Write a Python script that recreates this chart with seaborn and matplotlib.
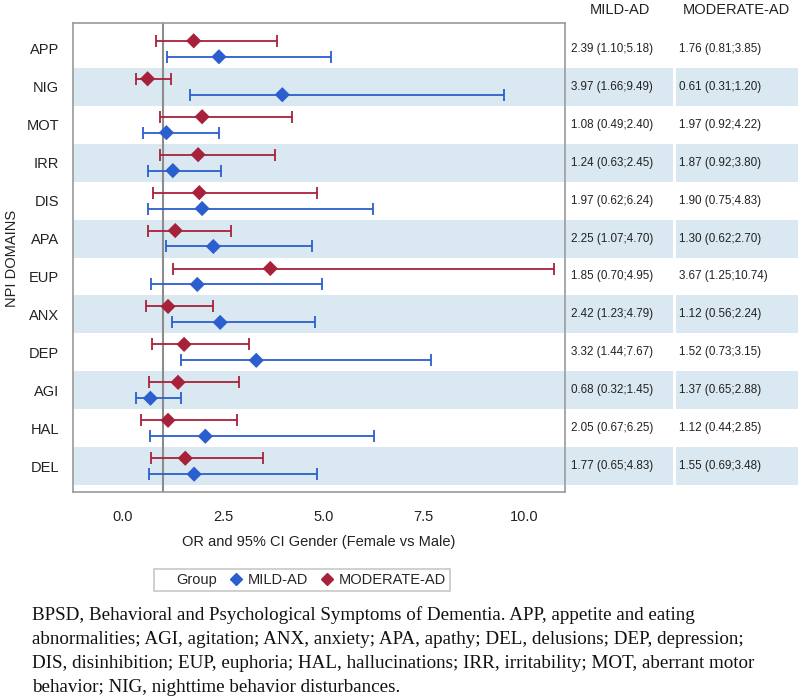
import numpy as np
import pandas as pd
import matplotlib
matplotlib.use("Agg")
import matplotlib.pyplot as plt
from matplotlib.lines import Line2D
import seaborn as sns

# NPI domains, top to bottom
domains = ["APP", "NIG", "MOT", "IRR", "DIS", "APA", "EUP", "ANX", "DEP", "AGI", "HAL", "DEL"]

mild_or = [2.39, 3.97, 1.08, 1.24, 1.97, 2.25, 1.85, 2.42, 3.32, 0.68, 2.05, 1.77]
mild_lo = [1.10, 1.66, 0.49, 0.63, 0.62, 1.07, 0.70, 1.23, 1.44, 0.32, 0.67, 0.65]
mild_hi = [5.18, 9.49, 2.40, 2.45, 6.24, 4.70, 4.95, 4.79, 7.67, 1.45, 6.25, 4.83]

mod_or = [1.76, 0.61, 1.97, 1.87, 1.90, 1.30, 3.67, 1.12, 1.52, 1.37, 1.12, 1.55]
mod_lo = [0.81, 0.31, 0.92, 0.92, 0.75, 0.62, 1.25, 0.56, 0.73, 0.65, 0.44, 0.69]
mod_hi = [3.85, 1.20, 4.22, 3.80, 4.83, 2.70, 10.74, 2.24, 3.15, 2.88, 2.85, 3.48]

x_ticks = [0.0, 2.5, 5.0, 7.5, 10.0]

caption_lines = [
    "BPSD, Behavioral and Psychological Symptoms of Dementia. APP, appetite and eating",
    "abnormalities; AGI, agitation; ANX, anxiety; APA, apathy; DEL, delusions; DEP, depression;",
    "DIS, disinhibition; EUP, euphoria; HAL, hallucinations; IRR, irritability; MOT, aberrant motor",
    "behavior; NIG, nighttime behavior disturbances.",
]

BLUE = "#2B5FCF"
RED = "#A8213A"
BAND = "#D9E8F1"
FRAME = "#9A9A9A"

sns.set_theme(style="white")
plt.rcParams["font.family"] = ["Liberation Sans", "DejaVu Sans"]

W, H = 798, 696
fig = plt.figure(figsize=(W / 100, H / 100), dpi=100)

ax_l, ax_r, ax_t, ax_b = 73, 565, 23, 492
ax = fig.add_axes([ax_l / W, 1 - ax_b / H, (ax_r - ax_l) / W, (ax_b - ax_t) / H])

# long-form frame for seaborn
off = 0.21
rows = []
for i, d in enumerate(domains):
    rows.append({"Domain": d, "Group": "MILD-AD", "OR": mild_or[i], "lo": mild_lo[i],
                 "hi": mild_hi[i], "y": i + off})
    rows.append({"Domain": d, "Group": "MODERATE-AD", "OR": mod_or[i], "lo": mod_lo[i],
                 "hi": mod_hi[i], "y": i - off})
df = pd.DataFrame(rows)
palette = {"MILD-AD": BLUE, "MODERATE-AD": RED}

ylim = (len(domains) - 0.5 + 0.18, -0.5 - 0.18)

# alternating bands
for i in range(len(domains)):
    if i % 2 == 1:
        ax.axhspan(i - 0.5, i + 0.5, color=BAND, lw=0, zorder=0)

ax.axvline(1.0, color="#8C8C8C", lw=1.5, zorder=1)

for grp, sub in df.groupby("Group"):
    ax.errorbar(sub["OR"], sub["y"], xerr=[sub["OR"] - sub["lo"], sub["hi"] - sub["OR"]],
                fmt="none", ecolor=palette[grp], elinewidth=1.3, capsize=4.3,
                capthick=1.3, zorder=2)

sns.scatterplot(data=df, x="OR", y="y", hue="Group", palette=palette, marker="D",
                s=60, edgecolor="none", legend=False, ax=ax, zorder=3)

ax.set_xlim(-1.25, 11.02)
ax.set_ylim(*ylim)
ax.set_yticks(range(len(domains)))
ax.set_yticklabels(domains)
ax.set_xticks(x_ticks)
ax.set_xticklabels([f"{t:.1f}" for t in x_ticks])
ax.set_xlabel("OR and 95% CI Gender (Female vs Male)", fontsize=10.5, color="#222222", labelpad=8)
ax.set_ylabel("")
ax.tick_params(axis="both", direction="out", length=5, width=1, color=FRAME,
               labelsize=10.5, labelcolor="#222222", pad=5)
ax.tick_params(axis="x", pad=8)
for sp in ax.spines.values():
    sp.set_color(FRAME)
    sp.set_linewidth(1.2)

fig.text(12 / W, 1 - 258 / H, "NPI DOMAINS", rotation=90, ha="center", va="center",
         fontsize=10.5, color="#222222")

# table on the right
tx_l = 566
tab = fig.add_axes([tx_l / W, 1 - ax_b / H, (W - tx_l) / W, (ax_b - ax_t) / H])
tab.set_xlim(0, 1)
tab.set_ylim(*ylim)
tab.axis("off")
c1_end = (673 - tx_l) / (W - tx_l)
c2_start = (676 - tx_l) / (W - tx_l)
for i in range(len(domains)):
    if i % 2 == 1:
        tab.fill_between([0, c1_end], i - 0.5, i + 0.5, color=BAND, lw=0)
        tab.fill_between([c2_start, 1], i - 0.5, i + 0.5, color=BAND, lw=0)
    tab.text((571 - tx_l) / (W - tx_l), i, f"{mild_or[i]:.2f} ({mild_lo[i]:.2f};{mild_hi[i]:.2f})",
             va="center", ha="left", fontsize=8.4, color="#222222")
    tab.text((679 - tx_l) / (W - tx_l), i, f"{mod_or[i]:.2f} ({mod_lo[i]:.2f};{mod_hi[i]:.2f})",
             va="center", ha="left", fontsize=8.4, color="#222222")

fig.text(620 / W, 1 - 10 / H, "MILD-AD", ha="center", va="center", fontsize=10.5, color="#222222")
fig.text(736 / W, 1 - 10 / H, "MODERATE-AD", ha="center", va="center", fontsize=10.5, color="#222222")

# legend
handles = [Line2D([], [], lw=0, marker=None),
           Line2D([], [], lw=0, marker="D", markersize=6.5, color=BLUE),
           Line2D([], [], lw=0, marker="D", markersize=6.5, color=RED)]
leg = fig.legend(handles, ["Group", "MILD-AD", "MODERATE-AD"], ncol=3,
                 loc="center", bbox_to_anchor=(302 / W, 1 - 580 / H), fontsize=10.5,
                 frameon=True, fancybox=False, handlelength=0.8, handletextpad=0.4,
                 columnspacing=0.9, borderpad=0.3, borderaxespad=0)
leg.get_frame().set_edgecolor("#BBBBBB")
leg.get_frame().set_linewidth(1.2)

# caption
for k, line in enumerate(caption_lines):
    fig.text(32 / W, 1 - (615 + 24 * k) / H, line, ha="left", va="center",
             fontsize=13.7, family=["Liberation Serif", "DejaVu Serif"], color="#111111")

fig.savefig("out.png", dpi=100)
